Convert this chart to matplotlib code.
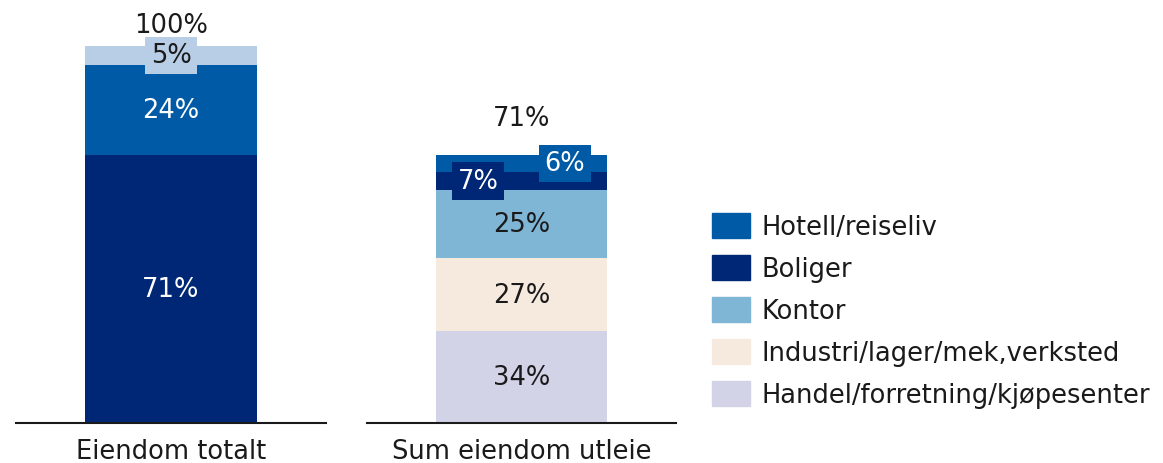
import numpy as np
import matplotlib.pyplot as plt
from matplotlib.patches import Patch

plt.rcParams['font.family'] = ['DejaVu Sans']

# Data
categories = ['Eiendom totalt', 'Sum eiendom utleie']
totals = [100, 71]

# first bar (not in legend)
total_parts = [71, 24, 5]
total_colors = ['#002776', '#005aa5', '#b8cde6']

# second bar, share of utleie (bottom -> top)
series = ['Handel/forretning/kjøpesenter', 'Industri/lager/mek,verksted',
          'Kontor', 'Boliger', 'Hotell/reiseliv']
shares = [34, 27, 25, 7, 6]
colors = ['#d3d3e8', '#f6e9de', '#7fb5d5', '#002776', '#005aa5']
text_colors = ['#1a1a1a', '#1a1a1a', '#1a1a1a', 'white', 'white']

W, H = 1163, 464
fig = plt.figure(figsize=(W / 100, H / 100), dpi=100)

fs = 18.5
txt = '#1a1a1a'
box = 'square,pad=0.22'


def make_ax(x0, x1):
    ax = fig.add_axes([x0 / W, (H - 424) / H, (x1 - x0) / W, 377 / H])
    ax.set_xlim(-0.5, 0.5)
    ax.set_ylim(0, 100)
    for s in ['top', 'right', 'left']:
        ax.spines[s].set_visible(False)
    ax.spines['bottom'].set_linewidth(1.5)
    ax.spines['bottom'].set_color('#1a1a1a')
    ax.set_yticks([])
    ax.tick_params(axis='x', length=0, pad=11, labelsize=fs, labelcolor=txt)
    return ax


bw = 172 / 310

# Bar 1
ax1 = make_ax(16, 326)
bottom = 0
for v, c in zip(total_parts, total_colors):
    ax1.bar(0, v, bw, bottom=bottom, color=c)
    if v > 10:
        ax1.text(0, bottom + v / 2, f'{v}%', ha='center', va='center',
                 color='white', fontsize=fs)
    else:
        ax1.text(0, bottom + v / 2, f'{v}%', ha='center', va='center',
                 color=txt, fontsize=fs,
                 bbox=dict(boxstyle=box, fc=c, ec='none'))
    bottom += v
ax1.text(0, totals[0] + 5.5, f'{totals[0]}%', ha='center', va='center',
         color=txt, fontsize=fs, clip_on=False)
ax1.set_xticks([0])
ax1.set_xticklabels([categories[0]])

# Bar 2
ax2 = make_ax(367, 676)
heights = np.array(shares) / sum(shares) * totals[1]
bottom = 0
for i, (s, h, c, tc) in enumerate(zip(shares, heights, colors, text_colors)):
    ax2.bar(0, h, bw, bottom=bottom, color=c, label=series[i])
    if s > 10:
        ax2.text(0, bottom + h / 2, f'{s}%', ha='center', va='center',
                 color=tc, fontsize=fs)
    else:
        dx = -0.14 if series[i] == 'Boliger' else 0.14
        ax2.text(dx, bottom + h / 2, f'{s}%', ha='center', va='center',
                 color=tc, fontsize=fs,
                 bbox=dict(boxstyle=box, fc=c, ec='none'))
    bottom += h
ax2.text(0, totals[1] + 10, f'{totals[1]}%', ha='center', va='center',
         color=txt, fontsize=fs, clip_on=False)
ax2.set_xticks([0])
ax2.set_xticklabels([categories[1]])

# Legend
handles = [Patch(color=c, label=s) for s, c in zip(series, colors)][::-1]
fig.legend(handles=handles, loc='upper left',
           bbox_to_anchor=(712 / W, 1 - 214 / H), frameon=False,
           fontsize=fs, handlelength=1.48, handleheight=1.13,
           handletextpad=0.45, labelspacing=0.57, labelcolor=txt,
           borderaxespad=0, borderpad=0)

fig.savefig('out.png', dpi=100)
